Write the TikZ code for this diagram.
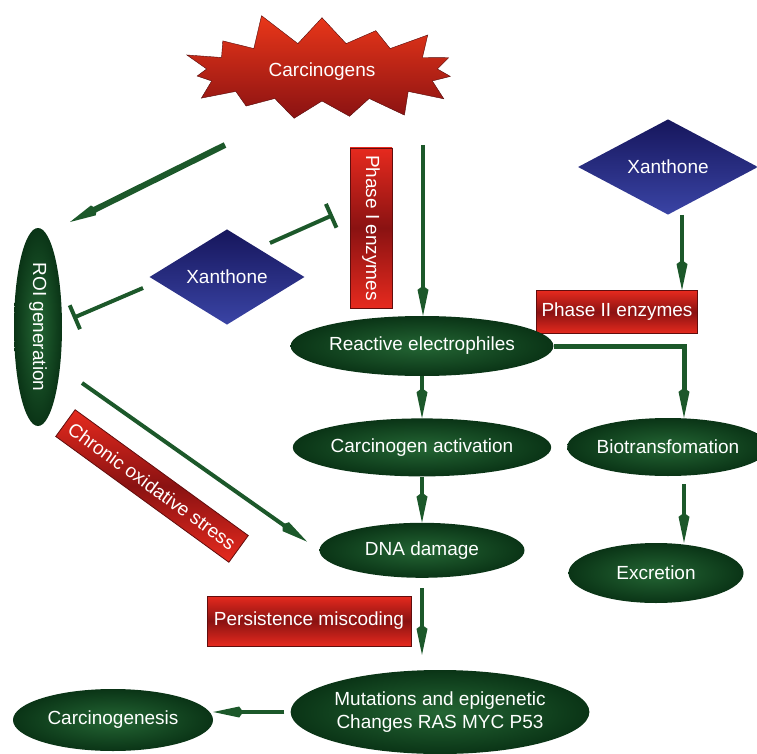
\documentclass[tikz,border=0pt]{standalone}
\usepackage{fontspec}
\setmainfont{Liberation Sans}
\usetikzlibrary{positioning,shapes.geometric,shapes.symbols,arrows.meta}
\definecolor{gin}{RGB}{36,102,52}
\definecolor{gout}{RGB}{10,52,22}
\definecolor{garrow}{RGB}{28,88,42}
\definecolor{redhi}{RGB}{230,42,30}
\definecolor{redlo}{RGB}{138,18,18}
\definecolor{bluehi}{RGB}{58,68,165}
\definecolor{bluelo}{RGB}{22,22,92}

\begin{document}
\begin{tikzpicture}[x=1pt,y=-1pt,font=\fontsize{19}{23}\selectfont,
                    green node/.style={ellipse,inner sep=0pt,align=center,text=white,
                                       shading=radial,inner color=gin,outer color=gout},
                    red box/.style={rectangle,inner sep=0pt,text=white,draw=redlo!70!black,line width=0.8pt,
                                    top color=redhi,bottom color=redhi,middle color=redlo},
                    blue node/.style={diamond,inner sep=0pt,text=white,top color=bluelo,bottom color=bluehi},
                    arrow/.style={draw=garrow,line width=4pt,-{Kite[length=30pt,width=11pt,inset=4pt]}},
                    block/.style={draw=garrow,line width=4pt,-{Bar[width=26pt]}}]
  \useasboundingbox (0,0) rectangle (757,754);

  \node[starburst,starburst points=15,starburst point height=34pt,random starburst=11,
        minimum width=300pt,minimum height=126pt,inner sep=0pt,text=white,
        top color=redhi!85!orange,bottom color=redlo,draw=redlo!60!black] (carc) at (322,72) {Carcinogens};
  \node[green node,rotate=-90,minimum width=198pt,minimum height=48pt] (roi) at (38,327) {ROI generation};
  \node[blue node,minimum width=155pt,minimum height=92pt] (xl) at (227,277) {Xanthone};
  \node[red box,rotate=-90,minimum width=160pt,minimum height=42pt] (ph1) at (371,228) {Phase I enzymes};
  \node[blue node,minimum width=180pt,minimum height=95pt] (xr) at (668,167) {Xanthone};
  \node[red box,minimum width=161pt,minimum height=43pt] (ph2) at (617,312) {Phase II enzymes};
  \node[green node,minimum width=212pt,minimum height=60pt] (reac) at (422,346) {Reactive electrophiles};
  \node[green node,minimum width=205pt,minimum height=58pt] (ca) [below=42pt of reac] {Carcinogen activation};
  \node[green node,minimum width=205pt,minimum height=55pt] (dna) [below=46pt of ca] {DNA damage};
  \node[green node,minimum width=180pt,minimum height=58pt] (bio) at (668,447) {Biotransfomation};
  \node[green node,minimum width=175pt,minimum height=60pt] (exc) at (656,573) {Excretion};
  \node[red box,minimum width=204pt,minimum height=50pt] (pm) at (309,621) {Persistence miscoding};
  \node[green node,minimum width=250pt,minimum height=84pt] (mut) at (440,712) {Mutations and epigenetic\\Changes RAS MYC P53};
  \node[green node,minimum width=200pt,minimum height=62pt] (cgen) at (113,720) {Carcinogenesis};
  \node[red box,rotate=-36,minimum width=214pt,minimum height=33pt] (cos) at (152,486) {Chronic oxidative stress};

  \coordinate (c1) at (225,145);
  \coordinate (c2) at (70,222);
  \coordinate (x1) at (143,288);
  \coordinate (r1) at (73,318);
  \coordinate (x2) at (270,243);
  \coordinate (p1) at (333,215);
  \coordinate (t1) at (423,145);
  \coordinate (s1) at (82,383);

  \draw[arrow,line width=6pt] (c1) -- (c2);
  \draw[block] (x1) -- (r1);
  \draw[block] (x2) -- (p1);
  \draw[arrow] (t1) -- (t1 |- reac.north);
  \draw[arrow] ([xshift=14pt]xr.south) -- ([xshift=14pt]xr.south |- ph2.north);
  \draw[arrow,line width=5pt] (reac.east) -| ([xshift=16pt]bio.north);
  \draw[arrow] (reac.south) -- (ca.north);
  \draw[arrow] (ca.south) -- (dna.north);
  \draw[arrow,shorten <=10pt,shorten >=15pt] (dna.south) -- (dna.south |- mut.north);
  \draw[arrow,shorten <=8pt] ([xshift=16pt]bio.south) -- ([xshift=16pt]bio.south |- exc.north);
  \draw[arrow,shorten <=6pt] (mut.west) -- (mut.west -| cgen.east);
  \draw[arrow,shorten >=15pt] (s1) -- (dna.west);
\end{tikzpicture}
\end{document}
